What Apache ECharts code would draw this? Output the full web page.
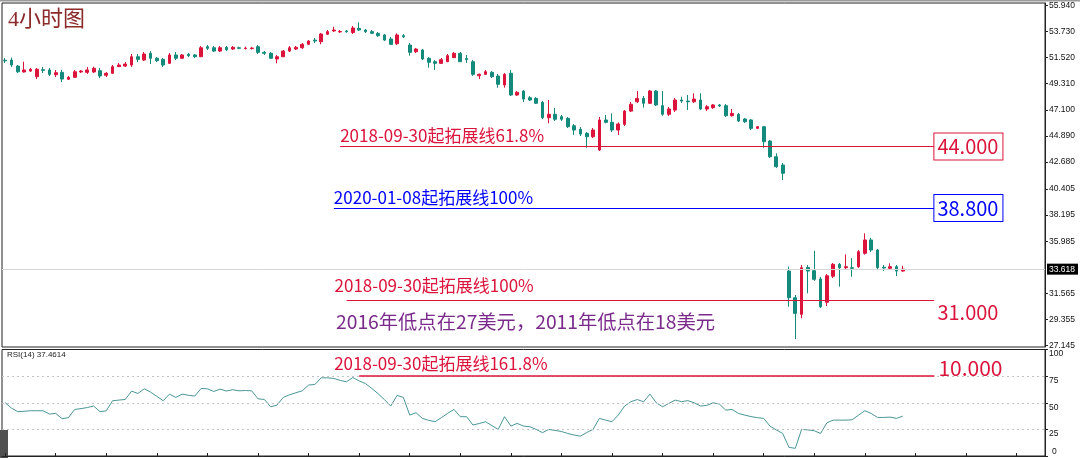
<!DOCTYPE html>
<html><head><meta charset="utf-8">
<script src="https://cdn.jsdelivr.net/npm/echarts@6/dist/echarts.min.js"></script>
<style>html,body{margin:0;padding:0;background:#fff}#c{width:1080px;height:458px}</style>
</head><body><div id="c"></div>
<script>
// ---- data ----
const slotCount = 165; // bar slots on the time axis (143 bars + empty space on the right)
const categories = Array.from({length: slotCount}, (_, i) => String(i + 1));

const open = [
51.29,51.31,50.80,50.30,50.38,49.90,50.49,50.47,50.07,50.27,
49.68,49.85,50.30,50.27,50.30,50.41,50.02,50.19,50.75,50.80,
50.89,51.59,51.31,51.88,51.46,51.37,51.03,51.74,51.46,51.80,
51.74,51.59,52.44,52.35,52.07,52.39,52.24,52.35,52.28,52.28,
52.44,51.96,51.88,51.40,51.59,52.07,52.24,52.35,52.64,53.00,
52.86,53.49,53.77,53.69,53.77,53.64,53.99,53.85,53.71,53.57,
53.43,53.09,52.69,53.37,52.58,52.01,52.16,51.46,51.17,51.03,
51.17,51.51,51.88,51.44,51.17,49.98,50.10,50.27,49.96,49.20,
50.19,48.35,48.69,48.12,48.07,47.73,46.43,46.72,46.52,46.38,
45.75,45.45,45.11,44.82,43.70,46.24,46.04,45.39,45.87,46.99,
47.78,48.07,47.65,48.69,47.45,46.72,47.08,47.93,47.84,47.78,
47.93,47.17,47.28,47.51,47.45,46.60,46.72,46.32,46.24,45.53,
45.67,44.46,43.13,42.43,33.46,31.20,29.80,33.77,33.49,32.79,
30.82,33.03,34.03,33.74,33.74,33.83,34.96,36.09,35.24,33.78,
33.69,33.83,33.46];
const close = [
51.24,50.89,50.32,50.47,50.53,50.53,50.44,50.10,50.24,49.70,
49.85,50.32,50.38,50.47,50.61,49.96,50.19,50.75,50.89,50.97,
51.59,51.37,51.82,51.46,51.25,50.89,51.74,51.46,51.74,51.68,
51.59,52.35,52.30,52.07,52.35,52.18,52.39,52.30,52.32,52.32,
51.96,51.88,51.46,51.59,52.07,52.35,52.39,52.64,52.92,52.92,
53.51,53.71,53.85,53.73,53.71,54.02,53.85,53.71,53.57,53.37,
53.00,52.64,53.43,53.28,51.96,52.24,51.40,51.12,51.03,51.34,
51.68,51.88,51.17,51.35,50.10,50.10,50.32,49.90,49.26,50.10,
48.35,48.58,48.01,47.93,47.65,46.43,46.72,46.30,46.30,45.67,
45.39,45.05,44.82,45.39,46.24,46.04,45.39,45.90,46.99,47.57,
48.07,47.65,48.69,47.51,46.72,47.17,47.93,47.84,47.78,48.01,
47.17,47.36,47.51,47.42,46.60,46.80,46.15,46.09,45.53,45.67,
44.40,43.13,42.29,41.73,31.20,29.88,33.74,33.46,32.76,30.44,
33.06,34.03,33.74,33.83,33.69,35.10,36.09,35.24,33.74,33.72,
33.83,33.46,33.618];
const low = [
51.06,50.72,50.21,50.25,50.30,49.70,50.21,49.96,49.87,49.45,
49.62,49.79,50.21,50.13,50.21,49.79,49.87,50.13,50.72,50.72,
50.72,51.14,51.23,50.97,51.14,50.72,50.97,51.31,51.40,51.56,
51.48,51.56,52.16,51.99,51.99,52.07,52.16,52.22,52.20,52.20,
51.82,51.74,51.40,51.03,51.56,51.99,52.16,52.24,52.58,52.75,
52.64,53.43,53.68,53.60,53.62,53.51,53.77,53.60,53.51,53.26,
52.92,52.58,52.58,53.17,51.68,51.90,51.31,50.66,50.47,50.97,
51.14,51.48,51.14,51.06,49.96,49.70,50.04,49.79,48.97,48.97,
48.27,48.27,47.76,47.85,47.59,46.32,45.96,46.15,46.15,45.56,
44.97,44.88,43.89,44.71,43.61,45.96,45.22,44.97,45.73,46.91,
47.68,47.28,47.59,47.42,46.60,46.57,46.91,47.68,47.08,47.68,
47.08,46.99,47.17,47.34,46.49,46.52,46.07,45.98,45.39,45.47,
43.89,43.02,42.18,41.16,30.44,27.71,29.46,31.58,32.63,30.33,
30.50,32.87,32.14,33.63,32.98,33.72,34.85,35.07,33.63,33.46,
33.63,33.04,33.40];
const high = [
51.48,51.52,50.89,51.17,50.64,50.64,50.72,50.64,50.47,50.47,
49.96,50.47,50.47,50.72,50.75,50.64,50.30,50.89,51.06,51.14,
51.82,51.82,51.99,52.07,51.56,51.48,51.90,51.99,51.82,51.90,
51.82,52.50,52.58,52.50,52.50,52.50,52.50,52.44,52.44,52.42,
52.58,52.07,51.99,51.74,52.16,52.50,52.50,52.75,53.00,53.17,
53.60,53.85,54.13,53.85,53.85,54.19,54.50,53.93,53.85,53.68,
53.51,53.26,53.57,53.51,52.75,52.33,52.24,51.56,51.31,51.48,
51.82,51.99,51.99,51.74,51.31,50.17,50.47,50.38,50.13,50.21,
50.47,48.69,48.77,48.27,48.18,47.84,47.93,47.25,46.66,46.49,
45.90,45.64,45.22,45.56,46.49,46.66,46.80,46.04,47.08,47.76,
48.69,48.27,48.77,48.77,48.69,47.34,48.10,48.21,48.35,48.50,
48.50,47.51,47.59,47.59,47.59,47.17,46.83,46.41,46.32,45.73,
45.73,44.54,43.42,42.60,33.83,31.43,33.97,33.97,35.17,32.96,
33.21,34.14,34.14,34.87,34.56,35.24,36.65,36.26,35.32,33.97,
34.11,33.97,33.91];
const rsi = [
50,45,41.6,42,42.5,42.5,42.5,39.4,40,35,
36,43.7,44.5,45.5,46.9,41.6,42.5,51.9,52.5,53.1,
60.9,58.7,63.1,60,56,51.9,58.1,55,58.1,57,
56.3,63.4,63.1,60.6,62.8,61,62.2,61.2,61.5,61.2,
53.7,53.1,46.2,47.8,55,57.5,59.4,61.2,66.6,67.2,
73.4,73.4,72.8,71,69.7,73.7,70.5,68,63.4,58.5,
53,46.9,56.9,55,38.4,40.6,35.3,33.5,32.2,36,
40,43.7,36.9,36.9,29.1,30.5,32.2,28.5,25,36.9,
28.1,30.6,28.1,27.5,25,21.9,25,24,23,21.2,
19.7,18.6,22,25,35.3,33.7,32.2,38.5,46.9,51,
53,50.9,58.1,50,46.2,49.4,52.5,51,52,50,
46.9,47.5,50,48.7,43.1,43.7,40,38.4,37,36,
35.3,28.1,24.4,21.2,8.1,7.2,25,24.5,23.7,21.2,
31.2,33.7,33.7,33.7,34,38.4,42.5,40,36.2,36.2,
36.5,35.3,37.4614];

const priceTicks = [55.940,53.730,51.520,49.310,47.100,44.890,42.680,40.405,38.195,35.985,31.565,29.355,27.145];
const rsiTicks = [25,50,75,100];
const rsiLevels = [25,50,75];
const lastPrice = 33.618;

const targetNames = ['2018-09-30起拓展线61.8%','2020-01-08起拓展线100%','2018-09-30起拓展线100%'];
const targetValues = [44.000, 38.800, 31.000];
const rsiTargetName = '2018-09-30起拓展线161.8%';
const rsiTargetText = '10.000';
const rsiTargetLevel = 75;
const noteText = '2016年低点在27美元，2011年低点在18美元';
const titleText = '4小时图';

// ---- build ----
const RED = '#dc143c', TEAL = '#138a7c', BLUE = '#0000ff', PURPLE = '#7b2a8c';
const CJK = '"Noto Sans CJK SC","Noto Sans",sans-serif';
const AX = '"Liberation Sans",Arial,sans-serif';
const HIDDEN = {color: 'rgba(255,255,255,0)', width: 0.01, type: 'solid'};
const candles = open.map((o, i) => [o, close[i], low[i], high[i]]);

const lineStart = [53, 52, 54];
const lineEnd = 147;
const targetColors = [RED, BLUE, RED];
const endLabelStyle = [
  {borderColor: RED, borderWidth: 1, color: RED, offset: [0, 0]},
  {borderColor: BLUE, borderWidth: 1, color: BLUE, offset: [0, 0]},
  {borderColor: 'transparent', borderWidth: 0, color: RED, offset: [0, 12]}
];
const startGap = [2, 2, 6];
const startOffset = [0, 0, -12];

const mainMark = [];
mainMark.push({
  yAxis: lastPrice,
  lineStyle: {color: '#d6d6d6', width: 1, type: 'solid'},
  label: {show: true, position: 'end', distance: 2, formatter: lastPrice.toFixed(3),
    backgroundColor: '#000', color: '#fff', fontFamily: AX, fontSize: 8.5, padding: [1, 3, 1, 2]}
});
targetValues.forEach((v, k) => {
  mainMark.push([
    {coord: [lineStart[k], v], lineStyle: {color: targetColors[k], width: 1.2, type: 'solid'},
     label: {show: true, position: 'insideStartTop', distance: [0, startGap[k]], offset: [startOffset[k], 0],
       formatter: targetNames[k], color: targetColors[k], fontFamily: CJK, fontSize: 17}},
    {coord: [lineEnd, v]}
  ]);
  const es = endLabelStyle[k];
  mainMark.push([
    {coord: [lineStart[k], v], lineStyle: HIDDEN,
     label: {show: true, position: 'end', distance: 0, offset: es.offset,
       formatter: v.toFixed(3), color: es.color, fontFamily: CJK, fontSize: 20,
       backgroundColor: '#fff', borderColor: es.borderColor, borderWidth: es.borderWidth,
       padding: [1, 4, 1, 3], lineHeight: 24}},
    {coord: [lineEnd, v]}
  ]);
});

const rsiMark = rsiLevels.map(v => ({yAxis: v, lineStyle: {color: '#c4c4c4', type: [2, 3], width: 1}, label: {show: false}}));
rsiMark.push([
  {coord: [56, rsiTargetLevel], lineStyle: {color: RED, width: 1.5, type: 'solid'},
   label: {show: true, position: 'insideStartTop', distance: [0, 4], offset: [-25, 0], formatter: rsiTargetName,
     color: RED, fontFamily: CJK, fontSize: 17}},
  {coord: [lineEnd, rsiTargetLevel]}
]);
rsiMark.push([
  {coord: [56, rsiTargetLevel], lineStyle: HIDDEN,
   label: {show: true, position: 'end', distance: 4, offset: [0, -8], formatter: rsiTargetText,
     color: RED, fontFamily: CJK, fontSize: 21}},
  {coord: [lineEnd, rsiTargetLevel]}
]);

const chart = echarts.init(document.getElementById('c'), null, {renderer: 'canvas'});
chart.setOption({
  animation: false,
  backgroundColor: '#fff',
  grid: [
    {left: 2, top: 3, width: 1043, height: 344, show: true, borderColor: '#222', borderWidth: 1, backgroundColor: 'transparent'},
    {left: 2, top: 349.5, width: 1043, height: 106.5, show: true, borderColor: '#222', borderWidth: 1, backgroundColor: 'transparent'}
  ],
  xAxis: [
    {type: 'category', gridIndex: 0, data: categories, boundaryGap: true,
     axisLine: {show: false}, axisTick: {show: false}, axisLabel: {show: false}, splitLine: {show: false}},
    {type: 'category', gridIndex: 1, data: categories, boundaryGap: true,
     axisLine: {show: true, lineStyle: {color: '#222'}},
     axisTick: {show: true, interval: 7, alignWithLabel: true, inside: true, length: 3, lineStyle: {color: '#222'}},
     axisLabel: {show: false}, splitLine: {show: false}}
  ],
  yAxis: [
    {type: 'value', gridIndex: 0, position: 'right', min: 27.035, max: 56.135, scale: true,
     axisLine: {show: true, lineStyle: {color: '#222'}},
     axisTick: {show: true, customValues: priceTicks, length: 3, lineStyle: {color: '#222'}},
     axisLabel: {show: true, customValues: priceTicks, formatter: v => v.toFixed(3), color: '#111',
       fontFamily: AX, fontSize: 8.5, margin: 4},
     splitLine: {show: false}},
    {type: 'value', gridIndex: 1, position: 'right', min: 0, max: 100,
     axisLine: {show: true, lineStyle: {color: '#222'}},
     axisTick: {show: true, customValues: [0].concat(rsiTicks), length: 3, lineStyle: {color: '#222'}},
     axisLabel: {show: true, customValues: rsiTicks, verticalAlign: 'top', color: '#111',
       fontFamily: AX, fontSize: 8.5, margin: 4},
     splitLine: {show: false}},
    {type: 'value', gridIndex: 1, position: 'right', min: 0, max: 100,
     axisLine: {show: false}, axisTick: {show: false},
     axisLabel: {show: true, customValues: [0], verticalAlign: 'bottom', color: '#111',
       fontFamily: AX, fontSize: 8.5, margin: 7},
     splitLine: {show: false}}
  ],
  series: [
    {type: 'candlestick', xAxisIndex: 0, yAxisIndex: 0, data: candles, barWidth: 3.2,
     itemStyle: {color: RED, color0: TEAL, borderColor: RED, borderColor0: TEAL, borderWidth: 1},
     markLine: {symbol: ['none', 'none'], silent: true, animation: false, data: mainMark}},
    {type: 'line', xAxisIndex: 1, yAxisIndex: 1, data: rsi, showSymbol: false, symbol: 'none',
     lineStyle: {color: '#4a9696', width: 1},
     markLine: {symbol: ['none', 'none'], silent: true, animation: false, data: rsiMark}}
  ],
  graphic: [
    {type: 'rect', left: 0, top: 0, shape: {width: 1080, height: 1.5}, style: {fill: '#9a9a9a'}, silent: true},
    {type: 'text', left: 8, top: 9, style: {text: titleText, fill: '#8b2a2a',
      font: '22px "Liberation Serif","Noto Sans CJK SC",serif'}},
    {type: 'text', left: 336, top: 312, style: {text: noteText, fill: PURPLE,
      font: '19.3px "Noto Sans CJK SC",sans-serif'}},
    {type: 'text', left: 7, top: 351, style: {text: 'RSI(14) ' + rsi[rsi.length - 1].toFixed(4), fill: '#222',
      font: '8px "Liberation Sans",Arial,sans-serif'}},
    {type: 'rect', left: 0, top: 430, shape: {width: 8, height: 28}, style: {fill: '#505050'}, silent: true}
  ]
});
</script></body></html>
